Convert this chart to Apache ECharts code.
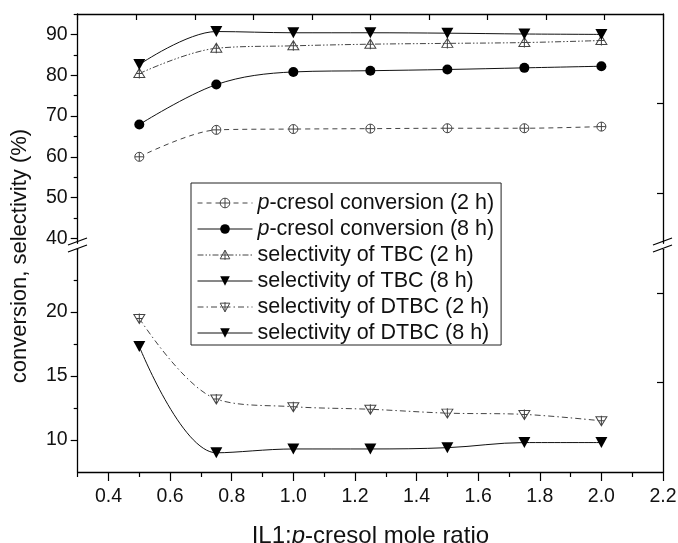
<!DOCTYPE html>
<html>
<head>
<meta charset="utf-8">
<script src="https://cdn.jsdelivr.net/npm/echarts@6/dist/echarts.min.js"></script>
<style>
html,body{margin:0;padding:0;background:#fff;}
#chart{width:678px;height:543px;}
</style>
</head>
<body>
<div id="chart"></div>
<script>
// ---- data ----
const xValues = [0.5, 0.75, 1.0, 1.25, 1.5, 1.75, 2.0];
const conv2h  = [60.0, 66.6, 66.8, 66.9, 67.0, 67.0, 67.4];
const conv8h  = [67.9, 77.7, 80.8, 81.1, 81.4, 81.8, 82.2];
const tbc2h   = [80.4, 86.6, 87.2, 87.6, 87.8, 88.0, 88.5];
const tbc8h   = [82.6, 90.7, 90.4, 90.4, 90.3, 90.1, 90.0];
const dtbc2h  = [19.5, 13.2, 12.6, 12.4, 12.1, 12.0, 11.5];
const dtbc8h  = [17.3, 9.0, 9.3, 9.3, 9.4, 9.8, 9.8];

const seriesNames = [
  'p-cresol conversion (2 h)',
  'p-cresol conversion (8 h)',
  'selectivity of TBC (2 h)',
  'selectivity of TBC (8 h)',
  'selectivity of DTBC (2 h)',
  'selectivity of DTBC (8 h)'
];

const xTickLabels   = [0.4, 0.6, 0.8, 1.0, 1.2, 1.4, 1.6, 1.8, 2.0, 2.2];
const xMinorTicks   = [0.3, 0.5, 0.7, 0.9, 1.1, 1.3, 1.5, 1.7, 1.9, 2.1];
const upperTicks    = [40, 50, 60, 70, 80, 90];
const upperMinor    = [45, 55, 65, 75, 85, 95];
const lowerTicks    = [10, 15, 20];
const lowerMinor    = [12.5, 17.5, 22.5];
const upperRightTicks = [73.2, 51.1];
const lowerRightTicks = [21.5, 14.5];

// ---- helpers ----
const pairs = (xs, ys) => xs.map((x, i) => [x, ys[i]]);
const FONT = '"Liberation Sans", Arial, Helvetica, sans-serif';
const INK = '#111';

const symCirclePlus = 'path://M0,-10 A10,10 0 1,1 0,10 A10,10 0 1,1 0,-10 Z M-10,0 L10,0 M0,-10 L0,10';
const symUpTriPlus  = 'path://M0,-10 L10,8 L-10,8 Z M0,-10 L0,10 M-6,0 L6,0';
const symDownTriPlus= 'path://M-10,-8 L10,-8 L0,10 Z M0,-10 L0,10 M-6,0 L6,0';
const symDownTri    = 'path://M-10,-9 L10,-9 L0,9 Z';

const chart = echarts.init(document.getElementById('chart'), null, {renderer: 'canvas'});

const openStyle = {color: '#fff', borderColor: '#444', borderWidth: 1};
const fillStyle = {color: '#000', borderColor: '#000', borderWidth: 0};

const lineStyles = [
  {color: '#444', width: 1, type: [5, 4]},
  {color: '#111', width: 1, type: 'solid'},
  {color: '#444', width: 1, type: [6, 2, 1.5, 2, 1.5, 2]},
  {color: '#111', width: 1, type: 'solid'},
  {color: '#444', width: 1, type: [6, 3, 1.5, 3]},
  {color: '#111', width: 1, type: 'solid'}
];
const itemStyles = [openStyle, fillStyle, openStyle, fillStyle, openStyle, fillStyle];

const noZero = {show: false, onZero: false};

const option = {
  animation: false,
  backgroundColor: '#fff',
  textStyle: {fontFamily: FONT, color: INK},
  grid: [
    {left: 77.7, right: 15, top: 14, height: 229.3, outerBoundsMode: 'none', containLabel: false},
    {left: 77.7, right: 15, top: 249.3, bottom: 71, outerBoundsMode: 'none', containLabel: false}
  ],
  xAxis: [
    {gridIndex: 0, type: 'value', min: 0.3, max: 2.2, show: false},
    {gridIndex: 0, type: 'value', position: 'top', min: -1, max: 9, interval: 1,
     axisLine: {show: true, onZero: false, lineStyle: {color: '#000', width: 1.3}},
     axisTick: {show: true, inside: true, length: 6, lineStyle: {color: '#000', width: 1.2}},
     axisLabel: {show: false}, splitLine: {show: false}},
    {gridIndex: 1, type: 'value', position: 'bottom', min: 0.3, max: 2.2,
     axisLine: {show: true, onZero: false, lineStyle: {color: '#000', width: 1.3}},
     axisTick: {show: true, inside: false, length: 9, customValues: xTickLabels, lineStyle: {color: '#000', width: 1.2}},
     axisLabel: {show: true, customValues: xTickLabels, margin: 15, fontSize: 19.5, color: INK,
       formatter: v => v.toFixed(1)},
     splitLine: {show: false},
     name: '{n|IL1:}{i|p}{n|-cresol mole ratio}',
     nameLocation: 'middle', nameGap: 52,
     nameTextStyle: {fontSize: 24, color: INK,
       rich: {n: {fontSize: 24, color: INK}, i: {fontSize: 24, fontStyle: 'italic', color: INK}}}},
    {gridIndex: 1, type: 'value', position: 'bottom', min: 0.3, max: 2.2,
     axisLine: noZero,
     axisTick: {show: true, inside: false, length: 5, customValues: xMinorTicks, lineStyle: {color: '#000', width: 1.2}},
     axisLabel: {show: false}, splitLine: {show: false}}
  ],
  yAxis: [
    {gridIndex: 0, type: 'value', position: 'left', min: 38.8, max: 95,
     axisLine: {show: true, onZero: false, lineStyle: {color: '#000', width: 1.3}},
     axisTick: {show: true, inside: false, length: 7, customValues: upperTicks, lineStyle: {color: '#000', width: 1.2}},
     axisLabel: {show: true, customValues: upperTicks, margin: 10, fontSize: 19.5, color: INK},
     splitLine: {show: false}},
    {gridIndex: 0, type: 'value', position: 'left', min: 38.8, max: 95,
     axisLine: noZero,
     axisTick: {show: true, inside: false, length: 4, customValues: upperMinor, lineStyle: {color: '#000', width: 1.2}},
     axisLabel: {show: false}, splitLine: {show: false}},
    {gridIndex: 0, type: 'value', position: 'right', min: 38.8, max: 95,
     axisLine: {show: true, onZero: false, lineStyle: {color: '#000', width: 1.3}},
     axisTick: {show: true, inside: true, length: 6, customValues: upperRightTicks, lineStyle: {color: '#000', width: 1.2}},
     axisLabel: {show: false}, splitLine: {show: false}},
    {gridIndex: 1, type: 'value', position: 'left', min: 7.5, max: 24.9,
     axisLine: {show: true, onZero: false, lineStyle: {color: '#000', width: 1.3}},
     axisTick: {show: true, inside: false, length: 7, customValues: lowerTicks, lineStyle: {color: '#000', width: 1.2}},
     axisLabel: {show: true, customValues: lowerTicks, margin: 10, fontSize: 19.5, color: INK},
     splitLine: {show: false}},
    {gridIndex: 1, type: 'value', position: 'left', min: 7.5, max: 24.9,
     axisLine: noZero,
     axisTick: {show: true, inside: false, length: 4, customValues: lowerMinor, lineStyle: {color: '#000', width: 1.2}},
     axisLabel: {show: false}, splitLine: {show: false}},
    {gridIndex: 1, type: 'value', position: 'right', min: 7.5, max: 24.9,
     axisLine: {show: true, onZero: false, lineStyle: {color: '#000', width: 1.3}},
     axisTick: {show: true, inside: true, length: 6, customValues: lowerRightTicks, lineStyle: {color: '#000', width: 1.2}},
     axisLabel: {show: false}, splitLine: {show: false}}
  ],
  legend: {
    orient: 'vertical', left: 191, top: 183,
    padding: [9, 7, 1, 6],
    itemWidth: 55, itemHeight: 12, itemGap: 4,
    borderColor: '#222', borderWidth: 1, backgroundColor: '#fff',
    selectedMode: false,
    data: seriesNames.map((n, i) => ({
      name: n,
      itemStyle: Object.assign({}, itemStyles[i]),
      lineStyle: Object.assign({}, lineStyles[i])
    })),
    formatter: name => name.indexOf('p-') === 0 ? '{i|p}' + name.slice(1) : name,
    textStyle: {fontSize: 21.5, lineHeight: 22, color: INK, fontFamily: FONT,
      rich: {i: {fontStyle: 'italic', fontSize: 21.5, lineHeight: 22, color: INK, fontFamily: FONT}}}
  },
  series: [
    {name: seriesNames[0], type: 'line', xAxisIndex: 0, yAxisIndex: 0, data: pairs(xValues, conv2h),
     smooth: 0.3, symbol: symCirclePlus, symbolSize: 9, itemStyle: openStyle,
     lineStyle: lineStyles[0], z: 3},
    {name: seriesNames[1], type: 'line', xAxisIndex: 0, yAxisIndex: 0, data: pairs(xValues, conv8h),
     smooth: 0.35, symbol: 'circle', symbolSize: 10, itemStyle: fillStyle,
     lineStyle: lineStyles[1], z: 3},
    {name: seriesNames[2], type: 'line', xAxisIndex: 0, yAxisIndex: 0, data: pairs(xValues, tbc2h),
     smooth: 0.35, symbol: symUpTriPlus, symbolSize: [11, 10], itemStyle: openStyle,
     lineStyle: lineStyles[2], z: 3},
    {name: seriesNames[3], type: 'line', xAxisIndex: 0, yAxisIndex: 0, data: pairs(xValues, tbc8h),
     smooth: 0.35, symbol: symDownTri, symbolSize: [12, 11], itemStyle: fillStyle,
     lineStyle: lineStyles[3], z: 4},
    {name: seriesNames[4], type: 'line', xAxisIndex: 2, yAxisIndex: 3, data: pairs(xValues, dtbc2h),
     smooth: 0.35, symbol: symDownTriPlus, symbolSize: [11, 10], itemStyle: openStyle,
     lineStyle: lineStyles[4], z: 3},
    {name: seriesNames[5], type: 'line', xAxisIndex: 2, yAxisIndex: 3, data: pairs(xValues, dtbc8h),
     smooth: 0.35, symbol: symDownTri, symbolSize: [12, 11], itemStyle: fillStyle,
     lineStyle: lineStyles[5], z: 4}
  ],
  graphic: [
    // axis break marks (decoration)
    {type: 'line', shape: {x1: 68, y1: 245, x2: 87, y2: 238}, style: {stroke: '#000', lineWidth: 1.3}, z: 100},
    {type: 'line', shape: {x1: 68, y1: 252, x2: 87, y2: 245}, style: {stroke: '#000', lineWidth: 1.3}, z: 100},
    {type: 'line', shape: {x1: 653, y1: 245, x2: 672, y2: 238}, style: {stroke: '#000', lineWidth: 1.3}, z: 100},
    {type: 'line', shape: {x1: 653, y1: 252, x2: 672, y2: 245}, style: {stroke: '#000', lineWidth: 1.3}, z: 100},
    {type: 'text', x: 20, y: 256, rotation: Math.PI / 2,
     style: {text: 'conversion, selectivity (%)', font: '22px ' + FONT, fill: INK,
       align: 'center', verticalAlign: 'middle'}}
  ]
};
chart.setOption(option);
</script>
</body>
</html>
